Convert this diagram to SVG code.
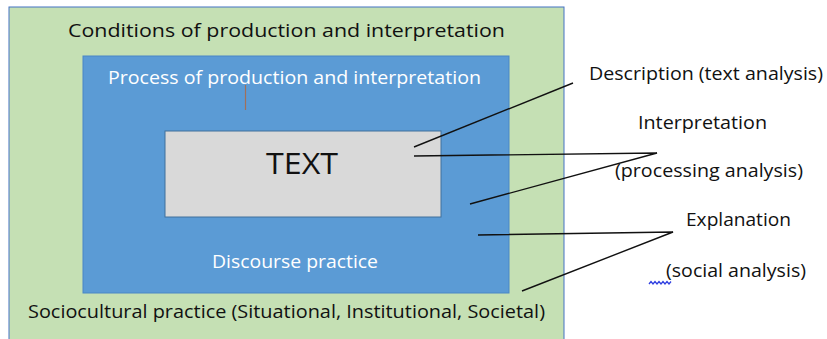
<svg xmlns="http://www.w3.org/2000/svg" width="827" height="339" viewBox="0 0 827 339">
<style>
.t{font-family:"Open Sans","Noto Sans","Liberation Sans",sans-serif;font-size:18px;fill:#111}
.w{fill:#ffffff}
.c{stroke:#111;stroke-width:1.4;fill:none}
</style>
<rect x="0" y="0" width="827" height="339" fill="#ffffff"/>
<g id="outer">
<rect x="9" y="7" width="555" height="340" fill="#c5e0b4" stroke="#4472c4" stroke-width="1"/>
<text class="t" x="68" y="37" textLength="437" lengthAdjust="spacingAndGlyphs">Conditions of production and interpretation</text>
<text class="t" x="28" y="318" textLength="517" lengthAdjust="spacingAndGlyphs">Sociocultural practice (Situational, Institutional, Societal)</text>
</g>
<g id="process">
<rect x="83" y="56" width="426" height="237" fill="#5b9bd5" stroke="#4a86c5" stroke-width="1"/>
<text class="t w" x="108" y="84" textLength="373" lengthAdjust="spacingAndGlyphs">Process of production and interpretation</text>
<text class="t w" x="212" y="268" textLength="166" lengthAdjust="spacingAndGlyphs">Discourse practice</text>
<line x1="245.5" y1="85" x2="245.5" y2="110" stroke="#a0705a" stroke-width="1.2"/>
</g>
<g id="text-box">
<rect x="165" y="131" width="276" height="86" fill="#d9d9d9" stroke="#41719c" stroke-width="1"/>
<text class="t" x="302" y="174" text-anchor="middle" style="font-size:30px" textLength="72" lengthAdjust="spacingAndGlyphs">TEXT</text>
</g>
<g id="labels">
<text class="t" x="589" y="80" textLength="234" lengthAdjust="spacingAndGlyphs">Description (text analysis)</text>
<text class="t" x="638" y="129" textLength="129" lengthAdjust="spacingAndGlyphs">Interpretation</text>
<text class="t" x="615" y="177" textLength="188" lengthAdjust="spacingAndGlyphs">(processing analysis)</text>
<text class="t" x="686" y="226" textLength="105" lengthAdjust="spacingAndGlyphs">Explanation</text>
<text class="t" x="666" y="277" textLength="140" lengthAdjust="spacingAndGlyphs">(social analysis)</text>
<path d="M649 284 l2 -2.5 l2 2.5 l2 -2.5 l2 2.5 l2 -2.5 l2 2.5 l2 -2.5 l2 2.5 l2 -2.5 l2 2.5 l2 -2.5" fill="none" stroke="#2f3fe0" stroke-width="1.3"/>
</g>
<g id="connectors">
<line class="c" x1="414" y1="147" x2="573" y2="83"/>
<polyline class="c" points="414,156 657,153 470,204"/>
<polyline class="c" points="478,235 673,232 522,291"/>
</g>
</svg>
